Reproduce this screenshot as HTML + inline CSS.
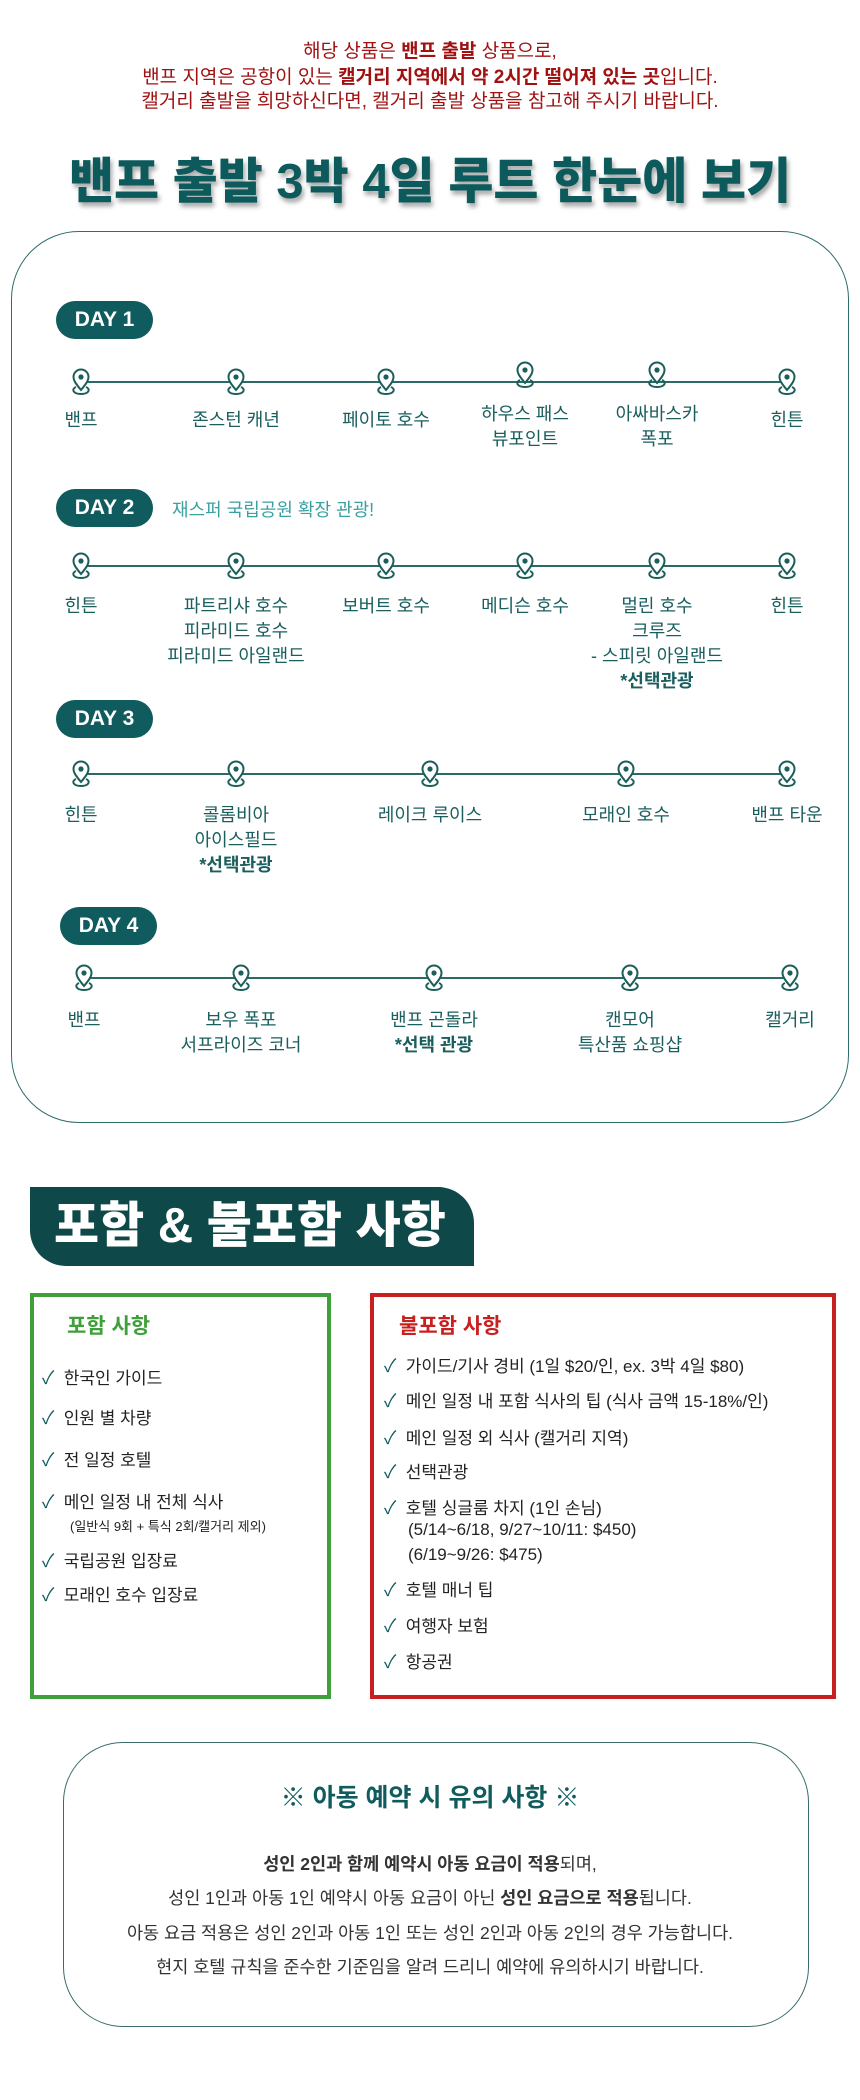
<!DOCTYPE html>
<html><head><meta charset="utf-8"><style>
*{margin:0;padding:0;box-sizing:border-box}
body{width:860px;height:2100px;background:#fff;position:relative;overflow:hidden;font-family:"Liberation Sans","Noto Sans CJK KR",sans-serif}
.a{position:absolute}
.red{color:#a01212;font-size:19px;text-align:center;width:860px;left:0}
.title{left:0;width:860px;top:142px;text-align:center;font-size:49px;font-weight:900;color:#0d5a5c;text-shadow:2px 4px 5px rgba(0,0,0,.35);letter-spacing:0}
.box{left:11px;top:231px;width:838px;height:892px;border:1.5px solid #2f6d6d;border-radius:68px}
.pill{background:#0f5b5e;color:#fff;font-weight:bold;font-size:21px;border-radius:19px;width:97px;height:38px;line-height:38px;text-align:center}
.line{height:2px;background:#2b6a66;left:81px;width:706px}
.lab{color:#1a5e5e;font-size:18px;line-height:25px;text-align:center;width:160px;margin-left:-80px}
.pin{width:22px;height:28px;margin-left:-11px}
.hdr{left:30px;top:1187px;width:444px;height:79px;background:#0e4848;border-radius:0 36px 0 36px;color:#fff;font-size:49px;font-weight:900;line-height:79px;padding-left:24px}
.gb{left:30px;top:1293px;width:301px;height:406px;border:4px solid #3f9f3a}
.rb{left:370px;top:1293px;width:466px;height:406px;border:4px solid #c8201f}
.it{font-size:17px;color:#222;white-space:nowrap}
.ck{color:#0f5b5e;font-size:18px}
.bb{left:63px;top:1742px;width:746px;height:285px;border:1.5px solid #3d6a6a;border-radius:60px}
.bl{left:0;width:860px;text-align:center;font-size:17.5px;color:#333}
</style></head><body>
<div class="a red" style="top:36px">해당 상품은 <b>밴프 출발</b> 상품으로,</div>
<div class="a red" style="top:62px">밴프 지역은 공항이 있는 <b>캘거리 지역에서 약 2시간 떨어져 있는 곳</b>입니다.</div>
<div class="a red" style="top:86px">캘거리 출발을 희망하신다면, 캘거리 출발 상품을 참고해 주시기 바랍니다.</div>
<div class="a title">밴프 출발 3박 4일 루트 한눈에 보기</div>
<div class="a box"></div>

<svg width="0" height="0" style="position:absolute"><defs><symbol id="p" viewBox="0 0 22 28"><path d="M11 22 C6 16 3.5 12.5 3.5 9 A7.5 7.5 0 0 1 18.5 9 C18.5 12.5 16 16 11 22Z" fill="#fff" stroke="#1b5e5a" stroke-width="2"/><circle cx="11" cy="9" r="2.6" fill="#1b5e5a"/><path d="M6 19 C1 21 3 26 11 26 C19 26 21 21 16 19" fill="none" stroke="#1b5e5a" stroke-width="2"/></symbol></defs></svg>

<!-- DAY 1 -->
<div class="a pill" style="left:56px;top:301px">DAY 1</div>
<div class="a line" style="top:381px"></div>
<svg class="a pin" style="left:81px;top:368px"><use href="#p"/></svg>
<svg class="a pin" style="left:236px;top:368px"><use href="#p"/></svg>
<svg class="a pin" style="left:386px;top:368px"><use href="#p"/></svg>
<svg class="a pin" style="left:525px;top:361px"><use href="#p"/></svg>
<svg class="a pin" style="left:657px;top:361px"><use href="#p"/></svg>
<svg class="a pin" style="left:787px;top:368px"><use href="#p"/></svg>
<div class="a lab" style="left:81px;top:408px">밴프</div>
<div class="a lab" style="left:236px;top:408px">존스턴 캐년</div>
<div class="a lab" style="left:386px;top:408px">페이토 호수</div>
<div class="a lab" style="left:525px;top:402px">하우스 패스<br>뷰포인트</div>
<div class="a lab" style="left:657px;top:402px">아싸바스카<br>폭포</div>
<div class="a lab" style="left:787px;top:408px">힌튼</div>

<!-- DAY 2 -->
<div class="a pill" style="left:56px;top:489px">DAY 2</div>
<div class="a" style="left:172px;top:496px;font-size:18px;color:#3aa0a0">재스퍼 국립공원 확장 관광!</div>
<div class="a line" style="top:565px"></div>
<svg class="a pin" style="left:81px;top:552px"><use href="#p"/></svg>
<svg class="a pin" style="left:236px;top:552px"><use href="#p"/></svg>
<svg class="a pin" style="left:386px;top:552px"><use href="#p"/></svg>
<svg class="a pin" style="left:525px;top:552px"><use href="#p"/></svg>
<svg class="a pin" style="left:657px;top:552px"><use href="#p"/></svg>
<svg class="a pin" style="left:787px;top:552px"><use href="#p"/></svg>
<div class="a lab" style="left:81px;top:594px">힌튼</div>
<div class="a lab" style="left:236px;top:594px">파트리샤 호수<br>피라미드 호수<br>피라미드 아일랜드</div>
<div class="a lab" style="left:386px;top:594px">보버트 호수</div>
<div class="a lab" style="left:525px;top:594px">메디슨 호수</div>
<div class="a lab" style="left:657px;top:594px">멀린 호수<br>크루즈<br>- 스피릿 아일랜드<br><b>*선택관광</b></div>
<div class="a lab" style="left:787px;top:594px">힌튼</div>

<!-- DAY 3 -->
<div class="a pill" style="left:56px;top:700px">DAY 3</div>
<div class="a line" style="top:773px"></div>
<svg class="a pin" style="left:81px;top:760px"><use href="#p"/></svg>
<svg class="a pin" style="left:236px;top:760px"><use href="#p"/></svg>
<svg class="a pin" style="left:430px;top:760px"><use href="#p"/></svg>
<svg class="a pin" style="left:626px;top:760px"><use href="#p"/></svg>
<svg class="a pin" style="left:787px;top:760px"><use href="#p"/></svg>
<div class="a lab" style="left:81px;top:803px">힌튼</div>
<div class="a lab" style="left:236px;top:803px">콜롬비아<br>아이스필드<br><b>*선택관광</b></div>
<div class="a lab" style="left:430px;top:803px">레이크 루이스</div>
<div class="a lab" style="left:626px;top:803px">모래인 호수</div>
<div class="a lab" style="left:787px;top:803px">밴프 타운</div>

<!-- DAY 4 -->
<div class="a pill" style="left:60px;top:907px">DAY 4</div>
<div class="a line" style="top:977px;left:84px;width:706px"></div>
<svg class="a pin" style="left:84px;top:964px"><use href="#p"/></svg>
<svg class="a pin" style="left:241px;top:964px"><use href="#p"/></svg>
<svg class="a pin" style="left:434px;top:964px"><use href="#p"/></svg>
<svg class="a pin" style="left:630px;top:964px"><use href="#p"/></svg>
<svg class="a pin" style="left:790px;top:964px"><use href="#p"/></svg>
<div class="a lab" style="left:84px;top:1008px">밴프</div>
<div class="a lab" style="left:241px;top:1008px">보우 폭포<br>서프라이즈 코너</div>
<div class="a lab" style="left:434px;top:1008px">밴프 곤돌라<br><b>*선택 관광</b></div>
<div class="a lab" style="left:630px;top:1008px">캔모어<br>특산품 쇼핑샵</div>
<div class="a lab" style="left:790px;top:1008px">캘거리</div>

<div class="a hdr">포함 &amp; 불포함 사항</div>

<div class="a gb"></div>
<div class="a" style="left:67px;top:1310px;font-size:21px;font-weight:bold;color:#3f9f3a">포함 사항</div>
<div class="a it" style="left:42px;top:1364px"><span class="ck">✓</span>&nbsp; 한국인 가이드</div>
<div class="a it" style="left:42px;top:1404px"><span class="ck">✓</span>&nbsp; 인원 별 차량</div>
<div class="a it" style="left:42px;top:1446px"><span class="ck">✓</span>&nbsp; 전 일정 호텔</div>
<div class="a it" style="left:42px;top:1488px"><span class="ck">✓</span>&nbsp; 메인 일정 내 전체 식사</div>
<div class="a it" style="left:70px;top:1516px;font-size:13px">(일반식 9회 + 특식 2회/캘거리 제외)</div>
<div class="a it" style="left:42px;top:1547px"><span class="ck">✓</span>&nbsp; 국립공원 입장료</div>
<div class="a it" style="left:42px;top:1581px"><span class="ck">✓</span>&nbsp; 모래인 호수 입장료</div>

<div class="a rb"></div>
<div class="a" style="left:399px;top:1310px;font-size:21px;font-weight:bold;color:#c8201f">불포함 사항</div>
<div class="a it" style="left:384px;top:1352px"><span class="ck">✓</span>&nbsp; 가이드/기사 경비 (1일 $20/인, ex. 3박 4일 $80)</div>
<div class="a it" style="left:384px;top:1387px"><span class="ck">✓</span>&nbsp; 메인 일정 내 포함 식사의 팁 (식사 금액 15-18%/인)</div>
<div class="a it" style="left:384px;top:1424px"><span class="ck">✓</span>&nbsp; 메인 일정 외 식사 (캘거리 지역)</div>
<div class="a it" style="left:384px;top:1458px"><span class="ck">✓</span>&nbsp; 선택관광</div>
<div class="a it" style="left:384px;top:1494px"><span class="ck">✓</span>&nbsp; 호텔 싱글룸 차지 (1인 손님)</div>
<div class="a it" style="left:408px;top:1520px">(5/14~6/18, 9/27~10/11: $450)</div>
<div class="a it" style="left:408px;top:1545px">(6/19~9/26: $475)</div>
<div class="a it" style="left:384px;top:1576px"><span class="ck">✓</span>&nbsp; 호텔 매너 팁</div>
<div class="a it" style="left:384px;top:1612px"><span class="ck">✓</span>&nbsp; 여행자 보험</div>
<div class="a it" style="left:384px;top:1648px"><span class="ck">✓</span>&nbsp; 항공권</div>

<div class="a bb"></div>
<div class="a bl" style="top:1778px;font-size:25px;font-weight:bold;color:#0f5b5e">※ 아동 예약 시 유의 사항 ※</div>
<div class="a bl" style="top:1851px"><b>성인 2인과 함께 예약시 아동 요금이 적용</b>되며,</div>
<div class="a bl" style="top:1885px">성인 1인과 아동 1인 예약시 아동 요금이 아닌 <b>성인 요금으로 적용</b>됩니다.</div>
<div class="a bl" style="top:1920px">아동 요금 적용은 성인 2인과 아동 1인 또는 성인 2인과 아동 2인의 경우 가능합니다.</div>
<div class="a bl" style="top:1954px">현지 호텔 규칙을 준수한 기준임을 알려 드리니 예약에 유의하시기 바랍니다.</div>
</body></html>
